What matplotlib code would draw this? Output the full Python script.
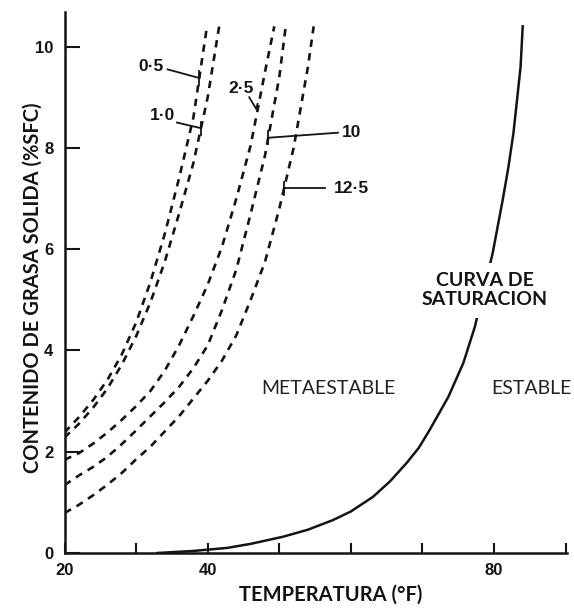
import numpy as np
import matplotlib
matplotlib.use("Agg")
import matplotlib.pyplot as plt

# cooling-rate curves: temperature (°F) vs solid fat content (%SFC)
t_05 = [20, 22, 24, 26, 28, 30, 32, 34, 36, 38, 39.9]
sfc_05 = [2.38, 2.68, 3.02, 3.42, 3.92, 4.55, 5.35, 6.3, 7.4, 8.6, 10.4]

t_10 = [20, 22, 24, 26, 28, 30, 32, 34, 36, 38, 40, 41.6]
sfc_10 = [2.28, 2.55, 2.87, 3.25, 3.72, 4.28, 4.95, 5.75, 6.7, 7.7, 9.0, 10.4]

t_25 = [20, 22, 24, 26, 28, 30, 32, 34, 36, 38, 40, 42, 44, 46, 48, 49.3]
sfc_25 = [1.84, 1.97, 2.16, 2.38, 2.63, 2.9, 3.2, 3.6, 4.1, 4.68, 5.3, 6.05, 7.0, 8.05, 9.5, 10.4]

t_100 = [20, 22, 24, 26, 28, 30, 32, 34, 36, 38, 40, 42, 44, 46, 48, 50, 50.9]
sfc_100 = [1.34, 1.53, 1.7, 1.9, 2.15, 2.42, 2.7, 2.98, 3.28, 3.65, 4.1, 4.8, 5.6, 6.7, 7.85, 9.4, 10.4]

t_125 = [20, 22, 24, 26, 28, 30, 32, 34, 36, 38, 40, 42, 44, 46, 48, 50, 52, 54, 54.8]
sfc_125 = [0.79, 0.95, 1.14, 1.35, 1.58, 1.85, 2.1, 2.4, 2.7, 3.05, 3.4, 3.8, 4.3, 5.0, 5.75, 6.8, 8.0, 9.6, 10.4]

# saturation curve
t_sat = [33, 38, 42.7, 46, 50.5, 54, 57.5, 60, 63.1, 65.5, 67.8, 69.5, 71, 73.6,
         75.7, 77.3, 79.8, 81.2, 82.0, 82.7, 83.2, 83.7, 84.0]
sfc_sat = [0, 0.04, 0.10, 0.18, 0.32, 0.46, 0.65, 0.82, 1.11, 1.42, 1.78, 2.08, 2.43, 3.08,
           3.75, 4.46, 5.92, 6.97, 7.62, 8.29, 8.94, 9.6, 10.4]

# curve labels: text, SFC level where the leader meets the curve
curve_labels = ["0·5", "1·0", "2·5", "10", "12·5"]
leader_sfc = [9.38, 8.39, 8.75, 8.2, 7.2]

x_ticks = [20, 30, 40, 50, 60, 70, 80, 90]
x_ticklabels = ["20", "", "40", "", "", "", "80", ""]
y_ticks = [0, 2, 4, 6, 8, 10]

ink = "#141414"
num_font = "Liberation Sans"
txt_font = "Lato"

fig = plt.figure(figsize=(5.74, 6.08), dpi=100)
ax = fig.add_axes([0.1124, 0.0905, 0.8756, 0.8903])

dash = (0, (2.8, 2.4))
curves = [(t_05, sfc_05), (t_10, sfc_10), (t_25, sfc_25), (t_100, sfc_100), (t_125, sfc_125)]
for t, s in curves:
    ax.plot(t, s, color=ink, lw=1.9, linestyle=dash, dash_capstyle="butt", zorder=3)

ax.plot(t_sat, sfc_sat, color=ink, lw=1.8, zorder=3)

# point on each curve where its leader line ends
pts = [float(np.interp(lv, s, t)) for lv, (t, s) in zip(leader_sfc, curves)]


def tbar(x, y):
    ax.plot([x, x], [y - 0.13, y + 0.13], color=ink, lw=1.3, zorder=4)


lab_kw = dict(fontfamily=num_font, fontweight="bold", fontsize=12.5, color=ink)

# 0·5
ax.plot([34.4, pts[0]], [9.55, leader_sfc[0]], color=ink, lw=1.3)
tbar(pts[0], leader_sfc[0])
ax.text(33.9, 9.6, curve_labels[0], ha="right", va="center", **lab_kw)
# 1·0
ax.plot([35.7, pts[1]], [8.5, leader_sfc[1]], color=ink, lw=1.3)
tbar(pts[1], leader_sfc[1])
ax.text(35.4, 8.63, curve_labels[1], ha="right", va="center", **lab_kw)
# 2·5
ax.plot([45.8, pts[2] - 0.2, pts[2]],
        [9.0, leader_sfc[2] + 0.02, leader_sfc[2] + 0.12], color=ink, lw=1.3)
ax.text(44.6, 9.17, curve_labels[2], ha="center", va="center", **lab_kw)
# 10
ax.plot([pts[3], 58.2], [leader_sfc[3], 8.3], color=ink, lw=1.3, zorder=4)
tbar(pts[3], leader_sfc[3])
ax.text(58.7, 8.3, curve_labels[3], ha="left", va="center", **lab_kw)
# 12·5
ax.plot([pts[4], 56.4], [leader_sfc[4], leader_sfc[4]], color=ink, lw=1.3, zorder=4)
tbar(pts[4], leader_sfc[4])
ax.text(57.6, 7.2, curve_labels[4], ha="left", va="center", **lab_kw)

ax.text(78.7, 5.19, "CURVA DE\nSATURACION", ha="center", va="center",
        fontfamily=txt_font, fontweight="bold", fontsize=14, color=ink,
        linespacing=1.1, zorder=5,
        bbox=dict(boxstyle="square,pad=0.5", fc="white", ec="none"))
ax.text(56.9, 3.24, "METAESTABLE", ha="center", va="center",
        fontfamily=txt_font, fontsize=14, color="#222222")
ax.text(85.2, 3.24, "ESTABLE", ha="center", va="center",
        fontfamily=txt_font, fontsize=14, color="#222222")

ax.set_xlim(20, 90.2)
ax.set_ylim(0, 10.69)
ax.set_xticks(x_ticks)
ax.set_xticklabels(x_ticklabels)
ax.set_yticks(y_ticks)
ax.set_yticklabels([str(v) for v in y_ticks])

for side in ["top", "right"]:
    ax.spines[side].set_visible(False)
for side in ["left", "bottom"]:
    ax.spines[side].set_linewidth(1.8)
    ax.spines[side].set_color(ink)

ax.tick_params(axis="x", direction="in", length=7, width=1.5, pad=7, colors=ink)
ax.tick_params(axis="y", direction="in", length=11, width=1.5, pad=8, colors=ink)
for lab in ax.get_xticklabels() + ax.get_yticklabels():
    lab.set_fontfamily(num_font)
    lab.set_fontweight("bold")
    lab.set_fontsize(12)

ax.set_xlabel("TEMPERATURA (°F)", fontfamily=txt_font, fontweight="bold",
              fontsize=14.5, color=ink)
ax.xaxis.set_label_coords(0.53, -0.058)
ax.text(-0.064, 0.49, "CONTENIDO DE GRASA SOLIDA (%SFC)", transform=ax.transAxes,
        rotation=90, ha="center", va="center", fontfamily=txt_font,
        fontweight="bold", fontsize=14.5, color=ink)

fig.savefig("out.png", dpi=100)
